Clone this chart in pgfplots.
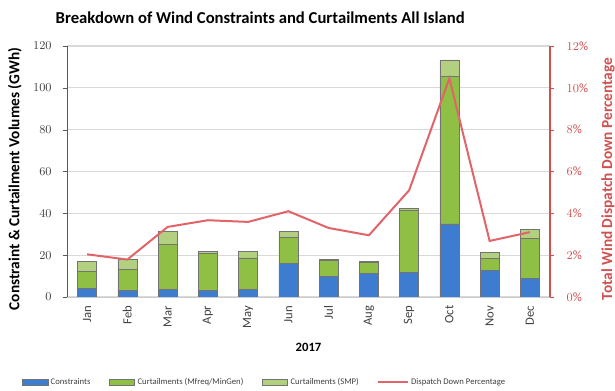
\documentclass[border=0pt]{standalone}
\usepackage{fontspec}
\setmainfont{Carlito}
\usepackage{pgfplots}
\pgfplotsset{compat=1.18}
\usepackage{pgfplotstable}
\definecolor{cblue}{HTML}{3D7CCF}
\definecolor{cgreen}{HTML}{8FBF45}
\definecolor{clight}{HTML}{B3CF80}
\definecolor{cred}{HTML}{E06468}
\definecolor{axred}{HTML}{D0504F}
\pgfplotstableread{
x C M S P
0 4.0 8.4 4.7 2.04
1 3.2 9.9 4.8 1.79
2 3.5 21.5 6.4 3.35
3 3.2 17.8 0.8 3.67
4 3.5 15.2 3.1 3.59
5 16.0 12.4 3.0 4.10
6 10.0 7.5 0.4 3.30
7 11.2 5.5 0.3 2.95
8 11.6 29.9 0.8 5.10
9 35.0 70.4 8.0 10.45
10 12.8 5.5 2.9 2.68
11 8.8 19.1 4.5 3.10
}\datatab
\begin{document}
\begin{tikzpicture}
\path[use as bounding box] (-50.25pt,-70.5pt) rectangle (411pt,222.75pt);
\begin{axis}[
  at={(0,0)}, anchor=south west,
  scale only axis, width=362.25pt, height=188.25pt,
  ybar stacked, bar width=14.25pt,
  xmin=-0.5, xmax=11.5, ymin=0, ymax=120,
  ytick={0,20,...,120},
  xtick={0,...,11},
  xticklabels={Jan,Feb,Mar,Apr,May,Jun,Jul,Aug,Sep,Oct,Nov,Dec},
  x tick label style={rotate=90, anchor=east, font=\fontsize{9.5}{10}\selectfont, text=black!75},
  y tick label style={font=\fontsize{9.5}{10}\selectfont, text=black!75, xshift=-5pt},
  major x tick style={draw=none},
  ytick style={draw=black!65},
  tick align=outside, major tick length=3pt,
  axis x line*=bottom, axis y line*=left,
  x axis line style={draw=black!20, -},
  y axis line style={draw=black!65, -},
  ymajorgrids, grid style={draw=black!15, line width=0.8pt},
  xlabel={\textbf{2017}},
  xlabel style={at={(axis description cs:0.5,-0.199)}, anchor=center, font=\fontsize{9.5}{11}\selectfont},
  ylabel={\textbf{Constraint \& Curtailment Volumes (GWh)}},
  ylabel style={at={(axis description cs:-0.108,0.47)}, anchor=center, font=\fontsize{11.5}{13}\selectfont},
  title={\textbf{Breakdown of Wind Constraints and Curtailments All Island}},
  title style={at={(axis description cs:0.40,1.08)}, anchor=center, font=\fontsize{12.5}{14}\selectfont},
  legend style={at={(axis description cs:0.41,-0.339)}, anchor=center, draw=none,
    legend columns=-1, font=\fontsize{6.5}{7}\selectfont, text=black!75,
    /tikz/every even column/.append style={column sep=12pt}},
  legend image code/.code={\draw[#1] (0pt,-2.2pt) rectangle (19pt,2.2pt);},
  every axis plot/.append style={draw=black!55, line width=0.4pt},
]
\addplot[fill=cblue] table[x=x,y=C]{\datatab};
\addlegendentry{Constraints}
\addplot[fill=cgreen] table[x=x,y=M]{\datatab};
\addlegendentry{Curtailments (Mfreq/MinGen)}
\addplot[fill=clight] table[x=x,y=S]{\datatab};
\addlegendentry{Curtailments (SMP)}
\addlegendimage{legend image code/.code={\draw[cred, line width=1.2pt] (0pt,0pt) -- (22pt,0pt);}}
\addlegendentry{Dispatch Down Percentage}
\end{axis}
\begin{axis}[
  at={(0,0)}, anchor=south west,
  scale only axis, width=362.25pt, height=188.25pt,
  xmin=-0.5, xmax=11.5, ymin=0, ymax=12,
  axis x line=none, axis y line*=right,
  ytick={0,2,...,12},
  yticklabel={\pgfmathprintnumber{\tick}\%},
  y tick label style={font=\fontsize{9.5}{10}\selectfont, text=axred, xshift=6pt},
  ytick style={draw=axred},
  tick align=outside, major tick length=3pt,
  y axis line style={draw=axred, line width=0.8pt, -},
  ylabel={\textbf{Total Wind Dispatch Down Percentage}},
  ylabel style={at={(axis description cs:1.12,0.47)}, anchor=center, text=axred, font=\fontsize{11.5}{13}\selectfont},
]
\addplot[cred, line width=1.5pt, mark=none] table[x=x,y=P]{\datatab};
\end{axis}
\end{tikzpicture}
\end{document}
